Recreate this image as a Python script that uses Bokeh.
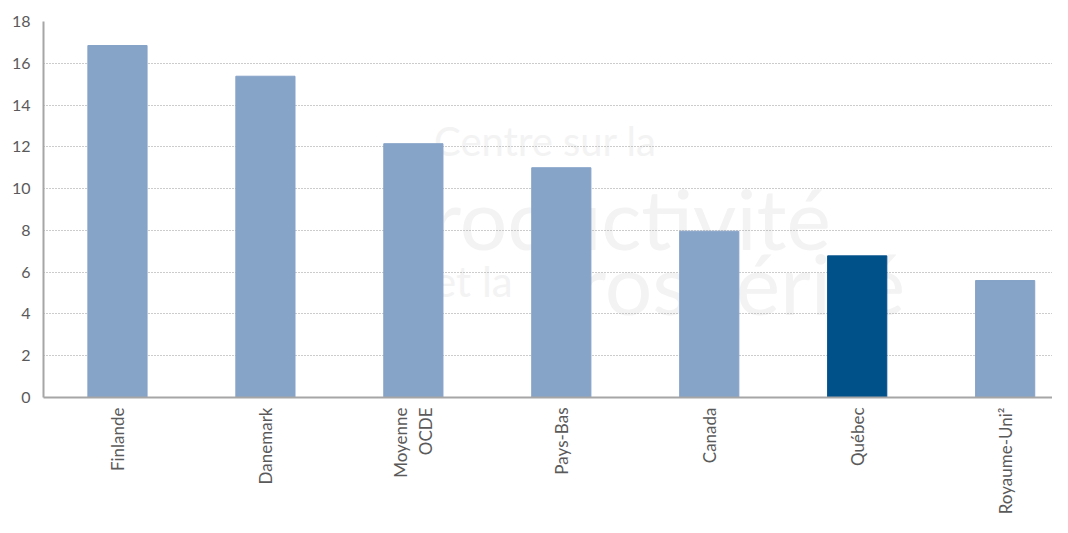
import math
from bokeh.plotting import figure
from bokeh.models import Range1d, FixedTicker, Label, ColumnDataSource
from bokeh.embed import file_html
from bokeh.resources import INLINE

# ---- data ----
categories = ["Finlande", "Danemark", "Moyenne\nOCDE", "Pays-Bas", "Canada", "Québec", "Royaume-Uni²"]
values = [16.85, 15.38, 12.15, 11.0, 7.96, 6.78, 5.6]
highlight = "Québec"
y_ticks = [0, 2, 4, 6, 8, 10, 12, 14, 16, 18]

# watermark (decorative)
wm_texts = ["Centre sur la", "productivité", "et la", "prospérité"]

LIGHT = "#86a3c8"
DARK = "#00518a"
FONT = "Lato"

xs = list(range(len(categories)))
colors = [DARK if c == highlight else LIGHT for c in categories]
src = ColumnDataSource(dict(x=xs, top=values, color=colors))

p = figure(width=1052, height=517,
           x_range=Range1d(-0.5, 6.32), y_range=Range1d(0, 18),
           output_backend="svg", toolbar_location=None,
           min_border_left=43, min_border_right=0,
           min_border_top=21, min_border_bottom=120)
p.outline_line_color = None
p.background_fill_color = "white"
p.border_fill_color = "white"

# watermark labels (under grid and bars)
wm_specs = [
    (2.14, 12.3, "40px"),
    (1.80, 8.62, "84px"),
    (2.14, 5.6, "42px"),
    (2.78, 5.5, "84px"),
]
for t, (wx, wy, fs) in zip(wm_texts, wm_specs):
    p.add_layout(Label(x=wx, y=wy, text=t, text_font=FONT, text_font_size=fs,
                       text_color="#f3f3f3", text_baseline="alphabetic",
                       text_align="left", level="image"))

p.vbar(x="x", top="top", width=0.4, fill_color="color", line_color="color",
       source=src)

# y axis
p.yaxis.ticker = FixedTicker(ticks=y_ticks)
p.yaxis.axis_line_color = "#a6a6a6"
p.yaxis.axis_line_width = 2
p.yaxis.major_tick_line_color = None
p.yaxis.minor_tick_line_color = None
p.yaxis.major_tick_out = 0
p.yaxis.major_label_standoff = 13
p.yaxis.major_label_text_font = FONT
p.yaxis.major_label_text_font_size = "16px"
p.yaxis.major_label_text_color = "#5a5a5a"

# x axis
p.xaxis.ticker = FixedTicker(ticks=xs)
p.xaxis.major_label_overrides = {i: c for i, c in zip(xs, categories)}
p.xaxis.axis_line_color = "#a6a6a6"
p.xaxis.axis_line_width = 2
p.xaxis.major_tick_line_color = None
p.xaxis.minor_tick_line_color = None
p.xaxis.major_tick_out = 0
p.xaxis.major_label_standoff = 10
p.xaxis.major_label_orientation = math.pi / 2
p.xaxis.major_label_text_font = FONT
p.xaxis.major_label_text_font_size = "17px"
p.xaxis.major_label_text_color = "#5a5a5a"

# grid
p.xgrid.grid_line_color = None
p.ygrid.ticker = FixedTicker(ticks=y_ticks)
p.ygrid.grid_line_color = "#999999"
p.ygrid.grid_line_dash = "1 2"
p.ygrid.grid_line_width = 1

open("out.html", "w").write(file_html(p, INLINE))
